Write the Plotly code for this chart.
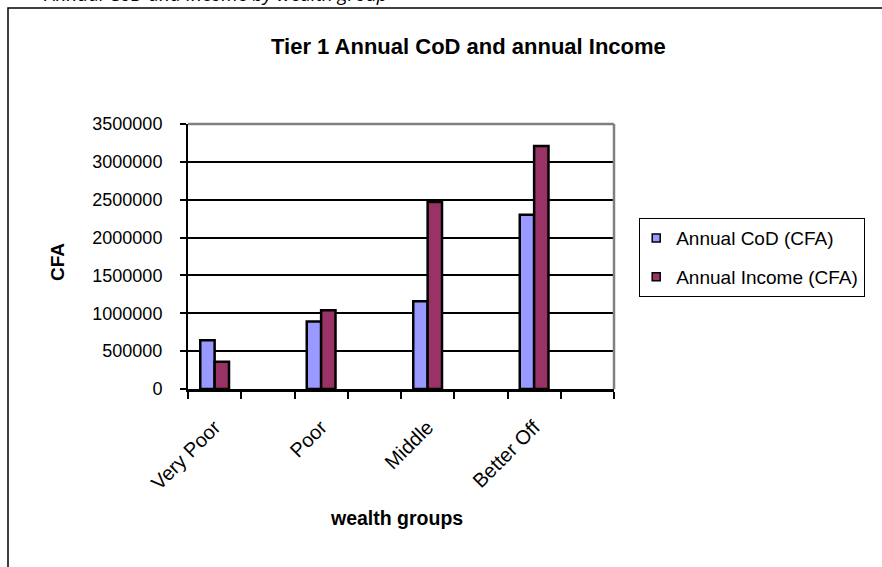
import plotly.graph_objects as go

# Wealth groups and their annual cost of diet / income (CFA)
groups = ["Very Poor", "Poor", "Middle", "Better Off"]
cod_cfa = [645000, 890000, 1160000, 2300000]
income_cfa = [360000, 1040000, 2470000, 3210000]
y_ticks = [0, 500000, 1000000, 1500000, 2000000, 2500000, 3000000, 3500000]

COD_COLOR = "#9999FF"
INC_COLOR = "#993366"
FONT = "Liberation Sans, Arial, sans-serif"

# each group sits in every other slot of an 8-slot category axis
slots = 8
xpos = [2 * i for i in range(len(groups))]
bar_w = 0.27

W, H = 882, 567
L, R, T, B = 188, 268, 124, 178
pw, ph = W - L - R, H - T - B


def px(x):
    return (x - L) / pw


def py(y):
    return (H - B - y) / ph


fig = go.Figure()
fig.add_trace(go.Bar(
    x=xpos, y=cod_cfa, width=bar_w, offset=-bar_w,
    marker=dict(color=COD_COLOR, line=dict(color="black", width=2.5)),
    showlegend=False, name="Annual CoD (CFA)",
))
fig.add_trace(go.Bar(
    x=xpos, y=income_cfa, width=bar_w, offset=0,
    marker=dict(color=INC_COLOR, line=dict(color="black", width=2.5)),
    showlegend=False, name="Annual Income (CFA)",
))

# legend entries with small square keys
for name, col, grp in [("Annual CoD (CFA)", COD_COLOR, "a"),
                       ("Annual Income (CFA)", INC_COLOR, "b")]:
    fig.add_trace(go.Scatter(
        x=[None], y=[None], mode="markers", name=name, legendgroup=grp,
        marker=dict(symbol="square", size=8, color=col,
                    line=dict(color="black", width=1.5)),
    ))

fig.update_layout(
    width=W, height=H,
    margin=dict(l=L, r=R, t=T, b=B, autoexpand=False),
    paper_bgcolor="white", plot_bgcolor="white",
    font=dict(family=FONT, size=18, color="black"),
    barmode="overlay",
    showlegend=True,
    legend=dict(
        x=px(639), y=py(218), xanchor="left", yanchor="top",
        bordercolor="black", borderwidth=1.2, bgcolor="white",
        font=dict(family=FONT, size=19, color="black"),
        traceorder="grouped", tracegroupgap=11,
        itemwidth=30, itemsizing="trace", indentation=-4,
    ),
)

fig.update_xaxes(
    range=[-0.5, slots - 0.5],
    tickmode="array", tickvals=xpos, ticktext=groups,
    tickangle=-45, ticks="", showgrid=False, zeroline=False,
    ticklabelstandoff=16,
    showline=True, linecolor="black", linewidth=2.5,
    tickfont=dict(family=FONT, size=20, color="black"),
    minor=dict(tickmode="array",
               tickvals=[i - 0.5 for i in range(slots + 1)],
               ticks="outside", ticklen=7, tickwidth=2, tickcolor="black",
               showgrid=False),
)
fig.update_yaxes(
    range=[0, 3500000],
    tickmode="array", tickvals=y_ticks, ticktext=[str(v) for v in y_ticks],
    ticks="outside", ticklen=6, tickwidth=2, tickcolor="black",
    ticklabelstandoff=14,
    showgrid=True, gridcolor="black", gridwidth=1.5,
    zeroline=False, showline=True, linecolor="black", linewidth=2,
    tickfont=dict(family=FONT, size=18, color="black"),
)

# plot-area border (top and right) and outer chart frame
fig.add_shape(type="line", xref="paper", yref="paper", x0=0, x1=1, y0=1, y1=1,
              line=dict(color="#808080", width=2.5), layer="above")
fig.add_shape(type="line", xref="paper", yref="paper", x0=1, x1=1, y0=0, y1=1,
              line=dict(color="#808080", width=2.5), layer="above")
fig.add_shape(type="rect", xref="paper", yref="paper",
              x0=px(8), x1=px(W + 20), y0=py(H + 20), y1=py(8),
              line=dict(color="black", width=1.5), layer="below")

# chart title and axis titles
fig.add_annotation(text="<b>Tier 1 Annual CoD and annual Income</b>",
                   xref="paper", yref="paper", x=px(468), y=py(46),
                   showarrow=False, xanchor="center", yanchor="middle",
                   font=dict(family=FONT, size=22, color="black"))
fig.add_annotation(text="<b>CFA</b>", textangle=-90,
                   xref="paper", yref="paper", x=px(57), y=py(262),
                   showarrow=False, xanchor="center", yanchor="middle",
                   font=dict(family=FONT, size=19, color="black"))
fig.add_annotation(text="<b>wealth groups</b>",
                   xref="paper", yref="paper", x=px(396), y=py(518),
                   showarrow=False, xanchor="center", yanchor="middle",
                   font=dict(family=FONT, size=19.5, color="black"))

# caption line above the chart frame
fig.add_annotation(text="Annual CoD and Income by wealth group",
                   xref="paper", yref="paper", x=px(390), y=py(-6.5),
                   showarrow=False, xanchor="right", yanchor="middle",
                   font=dict(family="Open Sans, sans-serif", size=19,
                             color="black", style="italic"))

fig.write_html("out.html")
